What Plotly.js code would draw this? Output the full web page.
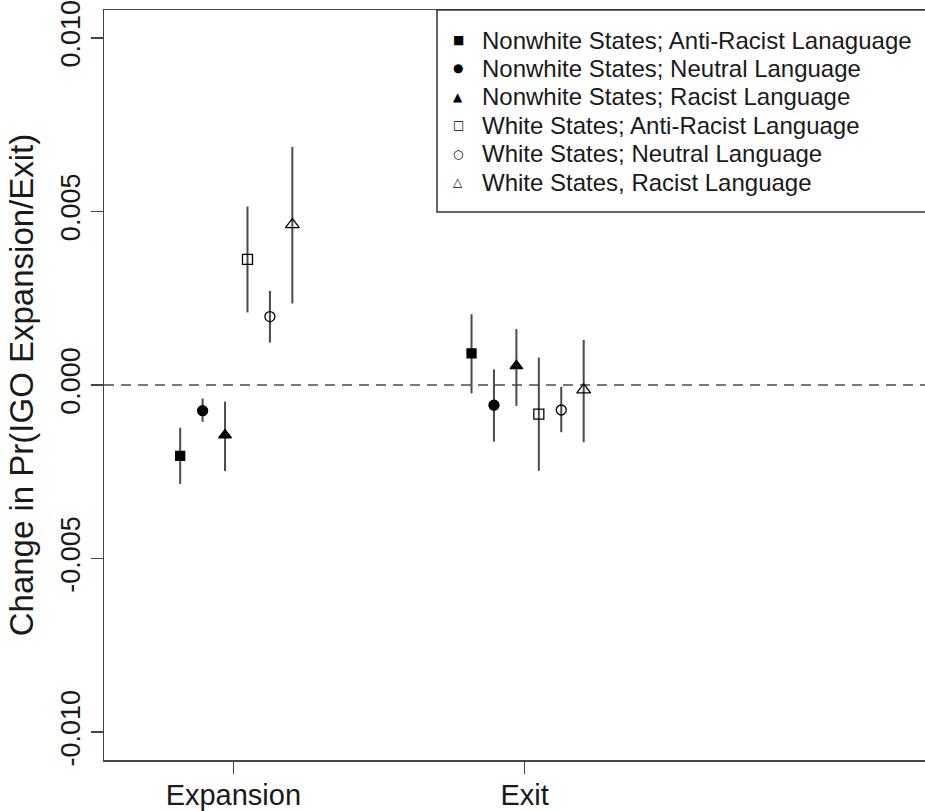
<!DOCTYPE html>
<html>
<head>
<meta charset="utf-8">
<script src="https://cdn.plot.ly/plotly-3.0.1.min.js"></script>
<style>
  html, body { margin: 0; padding: 0; background: #ffffff; }
  #chart { width: 925px; height: 811px; }
</style>
</head>
<body>
<div id="chart"></div>
<script>
// ---- Data ----
const outcomes = ['Expansion', 'Exit'];
const seriesNames = [
  'Nonwhite States; Anti-Racist Lanaguage',
  'Nonwhite States; Neutral Language',
  'Nonwhite States; Racist Language',
  'White States; Anti-Racist Language',
  'White States; Neutral Language',
  'White States, Racist Language'
];
// Point estimates and interval bounds, one entry per series
const expansionEst   = [-0.00204, -0.00074, -0.00144, 0.00362, 0.00197, 0.00462];
const expansionLower = [-0.00285, -0.00106, -0.00248, 0.00209, 0.00122, 0.00235];
const expansionUpper = [-0.00123, -0.00039, -0.00048, 0.00514, 0.00271, 0.00686];
const exitEst        = [ 0.00091, -0.00058,  0.00055, -0.00084, -0.00072, -0.00014];
const exitLower      = [-0.00024, -0.00163, -0.00060, -0.00247, -0.00136, -0.00165];
const exitUpper      = [ 0.00204,  0.00045,  0.00161,  0.00079, -0.00005,  0.00130];
const yTickVals  = [-0.010, -0.005, 0.000, 0.005, 0.010];
const yTickText  = ['-0.010', '-0.005', '0.000', '0.005', '0.010'];

// ---- Styles ----
const symbols = ['square', 'circle', 'triangle-up', 'square-open', 'circle-open', 'triangle-up-open'];
const legendGlyphs = ['\u25A0', '\u25CF', '\u25B2', '\u25A1', '\u25CB', '\u25B3'];
const sizes   = [9, 10, 11, 10, 10, 12];
const dodge   = 0.077;
const shift   = 0.01;
const FONT = 'Liberation Sans, Arial, Helvetica, sans-serif';

const traces = seriesNames.map((name, i) => {
  const off = (i - 2.5) * dodge + shift;
  const est = [expansionEst[i], exitEst[i]];
  const lo  = [expansionLower[i], exitLower[i]];
  const hi  = [expansionUpper[i], exitUpper[i]];
  return {
    type: 'scatter',
    mode: 'markers',
    name: name,
    x: [1 + off, 2 + off],
    y: est,
    error_y: {
      type: 'data',
      symmetric: false,
      array: hi.map((h, k) => h - est[k]),
      arrayminus: est.map((e, k) => e - lo[k]),
      width: 0,
      thickness: 2,
      color: '#4a4a4a'
    },
    marker: {
      symbol: symbols[i],
      size: sizes[i],
      color: '#000000',
      line: { color: '#000000', width: 1.3 }
    },
    showlegend: false,
    hoverinfo: 'x+y+name'
  };
});

// ---- Legend drawn as a boxed key (top-right, like the original) ----
const legX0 = 0.4056, legY0 = 0.7307;
const rowTop = 0.96, rowStep = 0.0379;
const annotations = [];
seriesNames.forEach((name, i) => {
  const yy = rowTop - i * rowStep;
  annotations.push({
    xref: 'paper', yref: 'paper', x: 0.4312, y: yy,
    xanchor: 'center', yanchor: 'middle', showarrow: false,
    text: legendGlyphs[i],
    font: { family: 'DejaVu Sans, sans-serif', size: 12, color: '#000000' }
  });
  annotations.push({
    xref: 'paper', yref: 'paper', x: 0.4585, y: yy,
    xanchor: 'left', yanchor: 'middle', showarrow: false,
    text: name,
    font: { family: FONT, size: 24, color: '#1a1a1a' }
  });
});

const layout = {
  width: 925,
  height: 811,
  margin: { l: 104, r: 0, t: 10, b: 51, autoexpand: false },
  paper_bgcolor: '#ffffff',
  plot_bgcolor: '#ffffff',
  font: { family: FONT, color: '#1a1a1a' },
  showlegend: false,
  xaxis: {
    range: [0.556, 3.374],
    tickvals: [1, 2],
    ticktext: outcomes,
    ticks: 'outside',
    ticklen: 12,
    tickwidth: 1.5,
    tickcolor: '#444444',
    ticklabelstandoff: -3,
    tickfont: { family: FONT, size: 29, color: '#1a1a1a' },
    showline: true,
    mirror: true,
    linecolor: '#444444',
    linewidth: 1.5,
    showgrid: false,
    zeroline: false
  },
  yaxis: {
    range: [-0.0108, 0.0108],
    tickvals: yTickVals,
    ticktext: yTickText,
    tickangle: -90,
    ticks: 'outside',
    ticklen: 12,
    tickwidth: 1.5,
    tickcolor: '#444444',
    ticklabeloverflow: 'allow',
    tickfont: { family: FONT, size: 27, color: '#1a1a1a' },
    showline: true,
    mirror: true,
    linecolor: '#444444',
    linewidth: 1.5,
    showgrid: false,
    zeroline: false,
    title: {
      text: 'Change in Pr(IGO Expansion/Exit)',
      font: { family: FONT, size: 33, color: '#1a1a1a' },
      standoff: 12
    }
  },
  annotations: annotations,
  shapes: [
    {
      type: 'line',
      xref: 'paper', x0: 0, x1: 1,
      yref: 'y', y0: 0, y1: 0,
      layer: 'below',
      line: { color: '#777777', width: 2, dash: '10px,7px' }
    },
    {
      type: 'rect',
      xref: 'paper', x0: legX0, x1: 1.01,
      yref: 'paper', y0: legY0, y1: 1,
      layer: 'above',
      fillcolor: 'rgba(255,255,255,0)',
      line: { color: '#333333', width: 1.5 }
    }
  ]
};

Plotly.newPlot('chart', traces, layout, { displayModeBar: false, staticPlot: true });
</script>
</body>
</html>
